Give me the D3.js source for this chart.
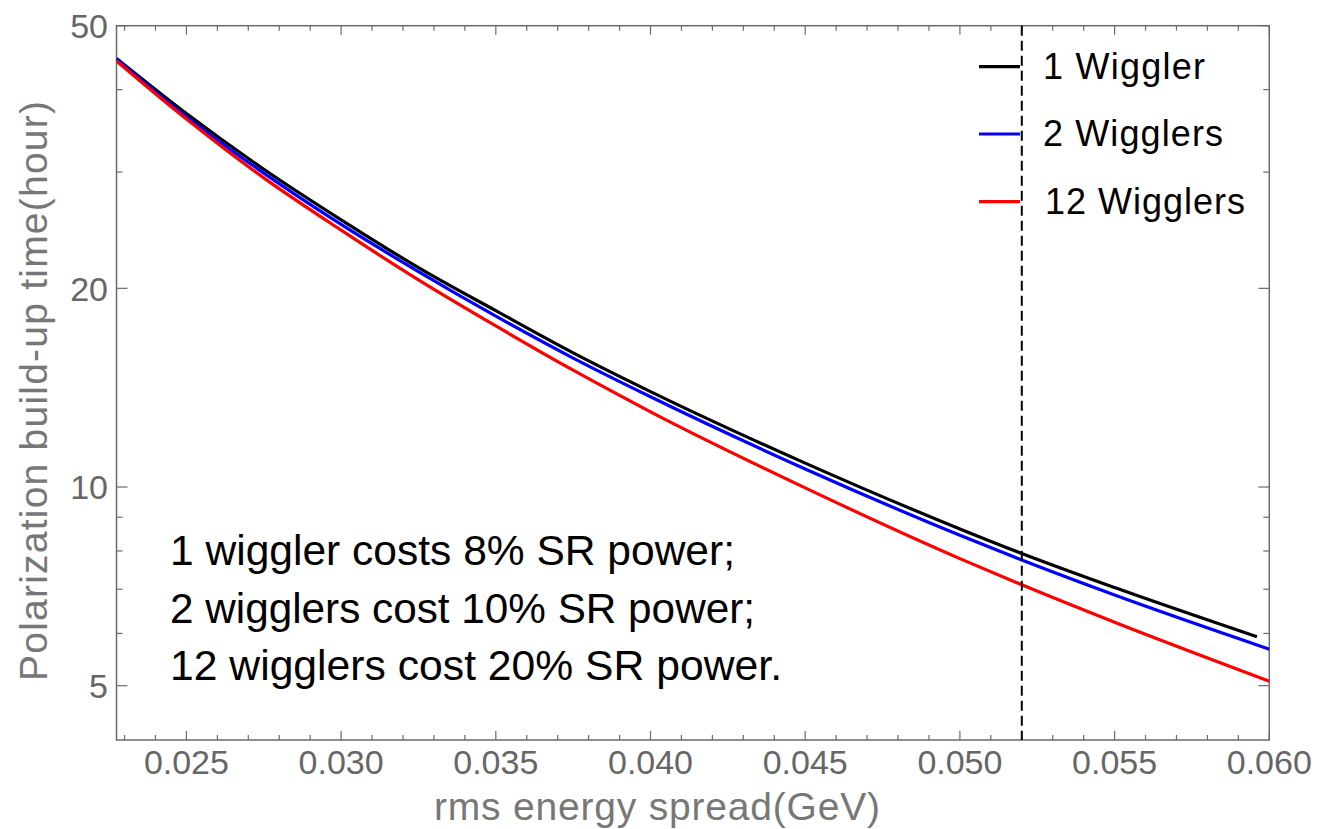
<html>
	<head>
		<script src="https://d3js.org/d3.v7.min.js"></script>
		<style>
			body { margin: 0; background: #fff; }
			text { font-family: "Liberation Sans", Arial, sans-serif; }
		</style>
	</head>
	<body>
		<svg width="1332" height="829"></svg>
		<script>

		// energy spread (GeV) sample points
		var spread = [0.02274, 0.025, 0.0275, 0.030, 0.0325, 0.035, 0.0375, 0.040, 0.045, 0.050, 0.052, 0.055, 0.060];
		var spreadOne = [0.02274, 0.025, 0.0275, 0.030, 0.0325, 0.035, 0.0375, 0.040, 0.045, 0.050, 0.052, 0.055, 0.0596];

		// polarization build-up time (hour)
		var oneWiggler     = [44.6, 36.8, 30.3, 25.4, 21.5, 18.5, 15.97, 13.95, 10.87, 8.64, 7.93, 7.04, 5.93];
		var twoWigglers    = [44.5, 36.4, 29.9, 25.0, 21.2, 18.15, 15.68, 13.70, 10.65, 8.45, 7.75, 6.86, 5.68];
		var twelveWigglers = [44.2, 36.1, 29.4, 24.5, 20.6, 17.54, 15.03, 13.0, 9.97, 7.79, 7.11, 6.24, 5.08];

		var seriesNames = ["1 Wiggler", "2 Wigglers", "12 Wigglers"];
		var seriesColors = ["#000000", "#0000ff", "#ff0000"];

		var xMajor = [0.025, 0.030, 0.035, 0.040, 0.045, 0.050, 0.055, 0.060];
		var xMinor = d3.range(23, 61).map(function(d) { return d / 1000; });
		var yMajor = [5, 10, 20, 50];
		var yMinor = [6, 7, 8, 9, 30, 40];

		var markLine = 0.052;
		var notes = ["1 wiggler costs 8% SR power;", "2 wigglers cost 10% SR power;", "12 wigglers cost 20% SR power."];

		var svg = d3.select("svg"),
			pLeft = 116.5, pRight = 1269.3, pTop = 25.7, pBottom = 740;

		var x = d3.scaleLinear().domain([0.02274, 0.060]).range([pLeft, pRight]);
		var y = d3.scaleLog().domain([4.137, 50]).range([pBottom, pTop]);

		var axisColor = "#6b6b6b";

		svg.append("clipPath").attr("id", "plot")
			.append("rect")
			.attr("x", pLeft).attr("y", pTop)
			.attr("width", pRight - pLeft).attr("height", pBottom - pTop);

		// ticks, pointing inward, on all four sides
		var ticks = svg.append("g").attr("stroke", axisColor).attr("stroke-width", 1.2);
		xMinor.forEach(function(v) {
			var isMajor = xMajor.some(function(m) { return Math.abs(m - v) < 1e-9; });
			var len = isMajor ? 9 : 5;
			if (x(v) < pLeft || x(v) > pRight + 0.5) return;
			ticks.append("line").attr("x1", x(v)).attr("x2", x(v)).attr("y1", pBottom).attr("y2", pBottom - len);
			ticks.append("line").attr("x1", x(v)).attr("x2", x(v)).attr("y1", pTop).attr("y2", pTop + len);
		});
		yMajor.concat(yMinor).forEach(function(v) {
			var len = yMajor.indexOf(v) >= 0 ? 11 : 6;
			ticks.append("line").attr("y1", y(v)).attr("y2", y(v)).attr("x1", pLeft).attr("x2", pLeft + len);
			ticks.append("line").attr("y1", y(v)).attr("y2", y(v)).attr("x1", pRight).attr("x2", pRight - len);
		});

		// frame
		svg.append("rect")
			.attr("x", pLeft).attr("y", pTop)
			.attr("width", pRight - pLeft).attr("height", pBottom - pTop)
			.attr("fill", "none")
			.attr("stroke", axisColor)
			.attr("stroke-width", 1.5);

		// tick labels
		svg.append("g").selectAll("text")
			.data(xMajor)
			.enter().append("text")
			.attr("x", function(d) { return x(d); })
			.attr("y", 774)
			.attr("text-anchor", "middle")
			.attr("fill", "#666")
			.attr("font-size", 34)
			.attr("textLength", 85)
			.text(function(d) { return d3.format(".3f")(d); });

		svg.append("g").selectAll("text")
			.data(yMajor)
			.enter().append("text")
			.attr("x", 108)
			.attr("y", function(d) { return y(d); })
			.attr("dy", "0.36em")
			.attr("text-anchor", "end")
			.attr("fill", "#666")
			.attr("font-size", 34)
			.text(function(d) { return d; });

		// axis titles
		svg.append("text")
			.attr("x", 657)
			.attr("y", 820)
			.attr("text-anchor", "middle")
			.attr("fill", "#777")
			.attr("font-size", 39)
			.attr("textLength", 446)
			.text("rms energy spread(GeV)");

		svg.append("text")
			.attr("transform", "translate(47,391) rotate(-90)")
			.attr("text-anchor", "middle")
			.attr("fill", "#777")
			.attr("font-size", 39)
			.attr("textLength", 580)
			.text("Polarization build-up time(hour)");

		// curves
		var line = d3.line()
			.x(function(d) { return x(d[0]); })
			.y(function(d) { return y(d[1]); })
			.curve(d3.curveMonotoneX);

		var series = [
			d3.zip(spreadOne, oneWiggler),
			d3.zip(spread, twoWigglers),
			d3.zip(spread, twelveWigglers)
		];

		var plot = svg.append("g").attr("clip-path", "url(#plot)");

		series.forEach(function(s, i) {
			plot.append("path")
				.datum(s)
				.attr("fill", "none")
				.attr("stroke", seriesColors[i])
				.attr("stroke-width", 3.2)
				.attr("d", line);
		});

		// dashed marker
		svg.append("line")
			.attr("x1", x(markLine)).attr("x2", x(markLine))
			.attr("y1", pTop).attr("y2", pBottom)
			.attr("stroke", "#000")
			.attr("stroke-width", 2)
			.attr("stroke-dasharray", "10,5");

		// legend
		var legendY = [66.7, 134, 201.7];
		var legendWidth = [162, 180, 200];
		var legend = svg.append("g");
		seriesNames.forEach(function(name, i) {
			legend.append("line")
				.attr("x1", 979).attr("x2", 1020)
				.attr("y1", legendY[i]).attr("y2", legendY[i])
				.attr("stroke", seriesColors[i])
				.attr("stroke-width", 3.2);
			legend.append("text")
				.attr("x", 1043 + (i == 2 ? 2 : 0))
				.attr("y", legendY[i] + 12)
				.attr("font-size", 36)
				.attr("fill", "#000")
				.attr("textLength", legendWidth[i])
				.text(name);
		});

		// annotation
		var noteWidth = [565, 585, 612];
		svg.append("g").selectAll("text")
			.data(notes)
			.enter().append("text")
			.attr("x", 170)
			.attr("y", function(d, i) { return 565 + i * 57.5; })
			.attr("font-family", "Lato, 'Open Sans', sans-serif")
			.attr("font-size", 42)
			.attr("fill", "#000")
			.attr("textLength", function(d, i) { return noteWidth[i]; })
			.attr("lengthAdjust", "spacingAndGlyphs")
			.text(function(d) { return d; });
		</script>
	</body>
</html>
